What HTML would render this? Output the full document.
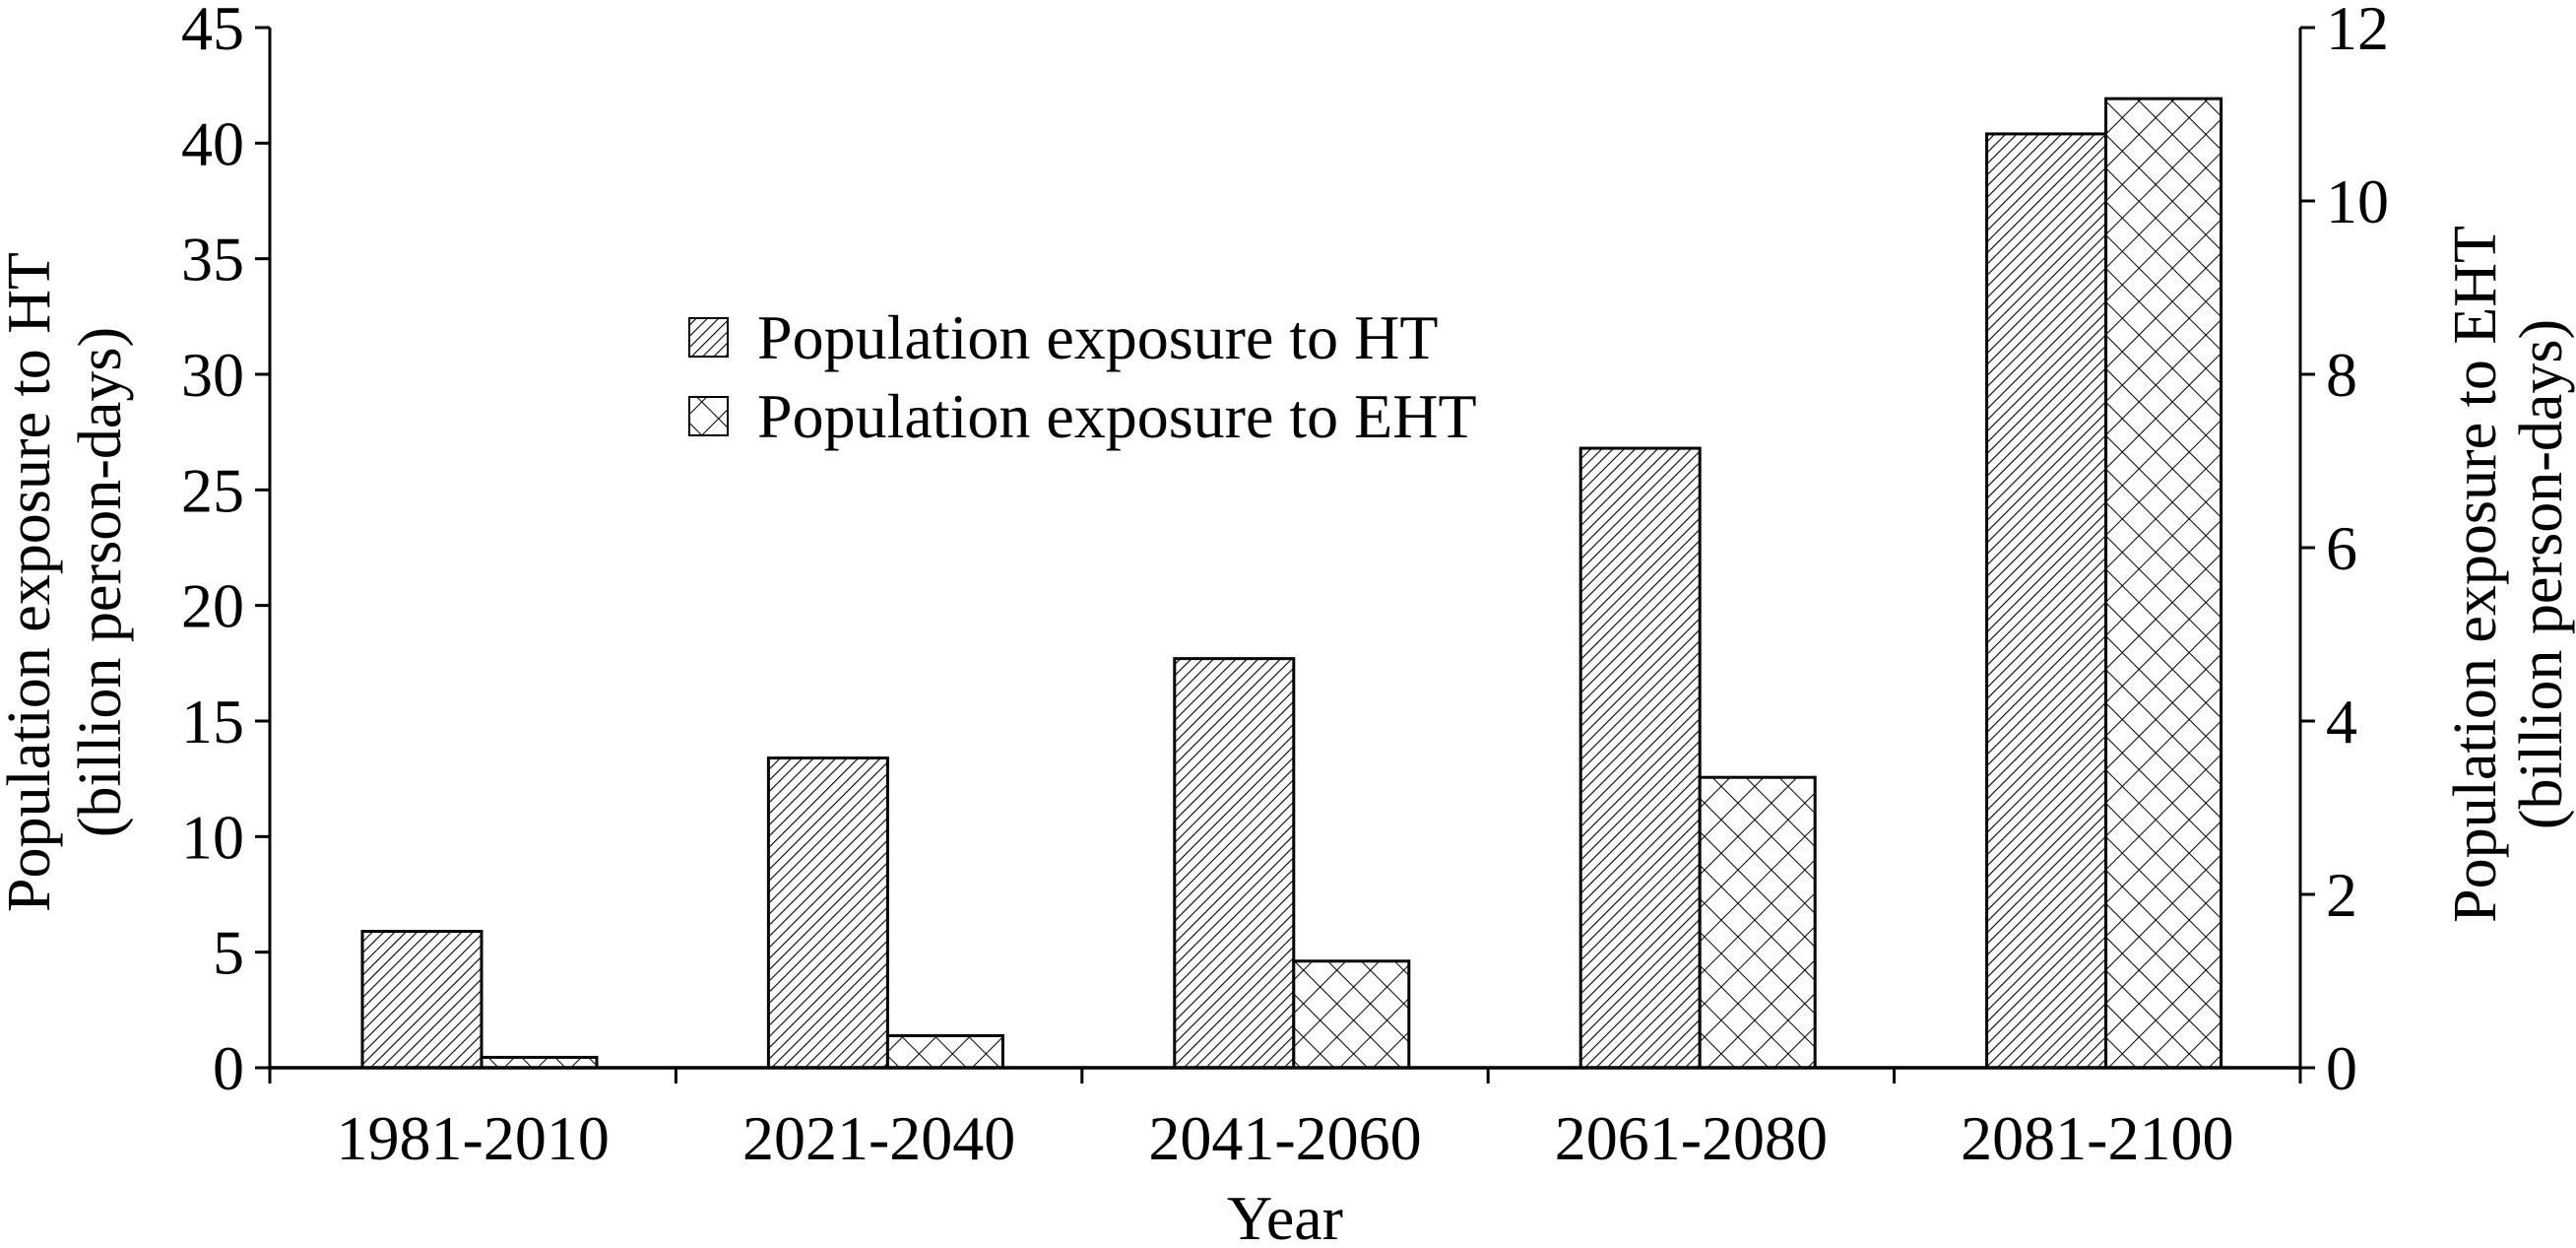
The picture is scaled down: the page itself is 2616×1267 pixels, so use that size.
<!DOCTYPE html>
<html><head><meta charset="utf-8"><style>
html,body{margin:0;padding:0;background:#fff;}
svg text{font-family:"Liberation Serif",serif;fill:#000;}
</style></head><body>
<svg id="chart" width="2616" height="1262" viewBox="0 0 2616 1262" xmlns="http://www.w3.org/2000/svg">
<defs>
<pattern id="diag" patternUnits="userSpaceOnUse" width="8" height="8" patternTransform="rotate(45)">
<rect width="8" height="8" fill="#fff"/><line x1="0" y1="0" x2="0" y2="8" stroke="#000" stroke-width="2.2"/></pattern>
<pattern id="cross" patternUnits="userSpaceOnUse" width="24" height="24" patternTransform="rotate(45)">
<rect width="24" height="24" fill="#fff"/><line x1="0" y1="0" x2="0" y2="24" stroke="#000" stroke-width="2"/><line x1="0" y1="0" x2="24" y2="0" stroke="#000" stroke-width="2"/></pattern>
</defs>
<g id="plot"></g>
</svg>
<script>
const categories = ["1981-2010","2021-2040","2041-2060","2061-2080","2081-2100"];
const htValues = [5.9, 13.4, 17.7, 26.8, 40.4];
const ehtValues = [0.12, 0.37, 1.23, 3.35, 11.18];
const leftTicks = [0,5,10,15,20,25,30,35,40,45];
const rightTicks = [0,2,4,6,8,10,12];

const NS="http://www.w3.org/2000/svg";
const g=document.getElementById('plot');
const X0=274, X1=2336, Y0=1084, Y1=28;
const catW=(X1-X0)/categories.length;
const yL=v=>Y0-(v/45)*(Y0-Y1);
const yR=v=>Y0-(v/12)*(Y0-Y1);
function mk(tag,attrs,parent){const e=document.createElementNS(NS,tag);for(const k in attrs)e.setAttribute(k,attrs[k]);(parent||g).appendChild(e);return e;}

categories.forEach((c,i)=>{
  const left=X0+i*catW;
  const b1=mk('rect',{x:left+94,y:yL(htValues[i]),width:121,height:Y0-yL(htValues[i]),fill:'url(#diag)',stroke:'#000','stroke-width':3});
  
  
  const b2=mk('rect',{x:left+215,y:yR(ehtValues[i]),width:117,height:Y0-yR(ehtValues[i]),fill:'url(#cross)',stroke:'#000','stroke-width':3});
  
  
  const t=mk('text',{x:left+catW/2,y:1177,'font-size':64,'text-anchor':'middle'});
  t.textContent=c;
  
  
  if(i>0){const tk=mk('line',{x1:left,y1:Y0,x2:left,y2:Y0+16,stroke:'#000','stroke-width':3});
  
  }
});
// axes
let a=mk('line',{x1:X0,y1:Y1,x2:X0,y2:Y0+16,stroke:'#000','stroke-width':3});


a=mk('line',{x1:X1,y1:Y1,x2:X1,y2:Y0+16,stroke:'#000','stroke-width':3});


a=mk('line',{x1:X0,y1:Y0,x2:X1,y2:Y0,stroke:'#000','stroke-width':3.5});


leftTicks.forEach(v=>{
  const y=yL(v);
  const l=mk('line',{x1:X0-15,y1:y,x2:X0,y2:y,stroke:'#000','stroke-width':3});
  
  
  const t=mk('text',{x:X0-26,y:y+22,'font-size':64,'text-anchor':'end'});
  t.textContent=v;
  
  
});
rightTicks.forEach(v=>{
  const y=yR(v);
  const l=mk('line',{x1:X1,y1:y,x2:X1+15,y2:y,stroke:'#000','stroke-width':3});
  
  
  const t=mk('text',{x:X1+26,y:y+22,'font-size':64,'text-anchor':'start'});
  t.textContent=v;
  
  
});
</script>
<svg width="2616" height="1262" style="position:absolute;left:0;top:0" xmlns="http://www.w3.org/2000/svg">
<g>
<rect x="700" y="323" width="39" height="39" fill="url(#diag)" stroke="#000" stroke-width="2"/>
<text x="769" y="364" font-size="64">Population exposure to HT</text>
<rect x="700" y="403" width="39" height="39" fill="url(#cross)" stroke="#000" stroke-width="2"/>
<text x="769" y="444" font-size="64">Population exposure to EHT</text>
</g>
<text transform="translate(50,591) rotate(-90)" font-size="62" text-anchor="middle">Population exposure to HT</text>
<text transform="translate(122,591) rotate(-90)" font-size="62" text-anchor="middle">(billion person-days)</text>
<text transform="translate(2534,583) rotate(-90)" font-size="62" text-anchor="middle">Population exposure to EHT</text>
<text transform="translate(2601,583) rotate(-90)" font-size="62" text-anchor="middle">(billion person-days)</text>
<text x="1305" y="1258" font-size="64" text-anchor="middle">Year</text>
</svg>
</body></html>
